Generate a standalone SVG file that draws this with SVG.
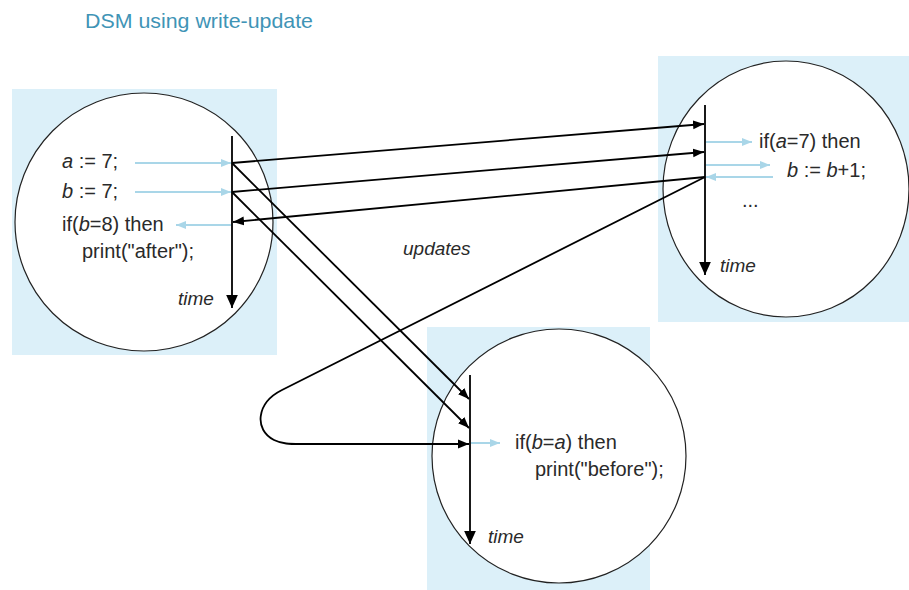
<svg xmlns="http://www.w3.org/2000/svg" width="909" height="590" viewBox="0 0 909 590">
<style>
  .box{fill:#dcf0f9;stroke:none}
  .proc{fill:#fff;stroke:#222;stroke-width:1.2}
  .tl{stroke:#000;stroke-width:1.8;fill:none}
  .ln{stroke:#000;stroke-width:1.8;fill:none}
  .blue{stroke:#a9d6e8;stroke-width:2;fill:none}
  .code{font-family:"Liberation Sans",Arial,sans-serif;font-size:20px;fill:#2a2a2a}
  .it{font-style:italic}
  .lbl{font-family:"Liberation Sans",Arial,sans-serif;font-size:19px;font-style:italic;fill:#2a2a2a}
  .title{font-family:"Liberation Sans",Arial,sans-serif;font-size:21px;fill:#3f94b6}
</style>
<defs>
  <marker id="ahb" viewBox="0 0 10 10" refX="10" refY="5" markerWidth="11" markerHeight="11" markerUnits="userSpaceOnUse" orient="auto">
    <path d="M0,1 L10,5 L0,9 z" fill="#000"/>
  </marker>
  <marker id="aht" viewBox="0 0 10 10" refX="10" refY="5" markerWidth="13" markerHeight="13" markerUnits="userSpaceOnUse" orient="auto">
    <path d="M0,0.5 L10,5 L0,9.5 z" fill="#000"/>
  </marker>
  <marker id="ahl" viewBox="0 0 10 10" refX="10" refY="5" markerWidth="10" markerHeight="10" markerUnits="userSpaceOnUse" orient="auto">
    <path d="M0,1 L10,5 L0,9 z" fill="#a9d6e8"/>
  </marker>
</defs>

<text class="title" x="85" y="28" textLength="228" lengthAdjust="spacingAndGlyphs">DSM using write-update</text>

<g id="process-left">
  <rect class="box" x="12" y="89" width="265" height="266"/>
  <circle class="proc" cx="144" cy="222" r="129"/>
  <line class="tl" x1="232" y1="136" x2="232" y2="308" marker-end="url(#aht)"/>
  <text class="code" x="62" y="168"><tspan class="it">a</tspan> := 7;</text>
  <text class="code" x="62" y="198"><tspan class="it">b</tspan> := 7;</text>
  <text class="code" x="62" y="231">if(<tspan class="it">b</tspan>=8) then</text>
  <text class="code" x="82" y="258">print("after");</text>
  <text class="lbl" x="178" y="305">time</text>
  <line class="blue" x1="135" y1="163" x2="231" y2="163" marker-end="url(#ahl)"/>
  <line class="blue" x1="135" y1="192" x2="231" y2="192" marker-end="url(#ahl)"/>
  <line class="blue" x1="231" y1="225" x2="176" y2="225" marker-end="url(#ahl)"/>
</g>

<g id="process-right">
  <rect class="box" x="658" y="56" width="251" height="266"/>
  <ellipse class="proc" cx="786" cy="189" rx="123" ry="128"/>
  <line class="tl" x1="705" y1="105" x2="705" y2="275" marker-end="url(#aht)"/>
  <text class="code" x="759" y="148">if(<tspan class="it">a</tspan>=7) then</text>
  <text class="code" x="787" y="177"><tspan class="it">b</tspan> := <tspan class="it">b</tspan>+1;</text>
  <text class="code" x="742" y="207">...</text>
  <text class="lbl" x="720" y="272">time</text>
  <line class="blue" x1="706" y1="142" x2="752" y2="142" marker-end="url(#ahl)"/>
  <line class="blue" x1="706" y1="165" x2="770" y2="165" marker-end="url(#ahl)"/>
  <line class="blue" x1="773" y1="177" x2="706" y2="177" marker-end="url(#ahl)"/>
</g>

<g id="process-bottom">
  <rect class="box" x="427" y="327" width="223" height="263"/>
  <circle class="proc" cx="559" cy="456" r="127"/>
  <line class="tl" x1="470" y1="375" x2="470" y2="544" marker-end="url(#aht)"/>
  <text class="code" x="515" y="449">if(<tspan class="it">b</tspan>=<tspan class="it">a</tspan>) then</text>
  <text class="code" x="535" y="476">print("before");</text>
  <text class="lbl" x="488" y="543">time</text>
  <line class="blue" x1="471" y1="443" x2="500" y2="443" marker-end="url(#ahl)"/>
</g>

<text class="lbl" x="403" y="255">updates</text>

<g id="connectors">
  <line class="ln" x1="232" y1="163" x2="704" y2="124" marker-end="url(#ahb)"/>
  <line class="ln" x1="232" y1="192" x2="704" y2="152" marker-end="url(#ahb)"/>
  <line class="ln" x1="705" y1="177" x2="233" y2="222" marker-end="url(#ahb)"/>
  <line class="ln" x1="232" y1="163" x2="469" y2="399" marker-end="url(#ahb)"/>
  <line class="ln" x1="232" y1="192" x2="469" y2="428" marker-end="url(#ahb)"/>
  <path class="ln" d="M705,177 L282,390 C256,403 254,430 274,440 C282,444 290,444 300,444 L469,444" marker-end="url(#ahb)"/>
</g>
</svg>
